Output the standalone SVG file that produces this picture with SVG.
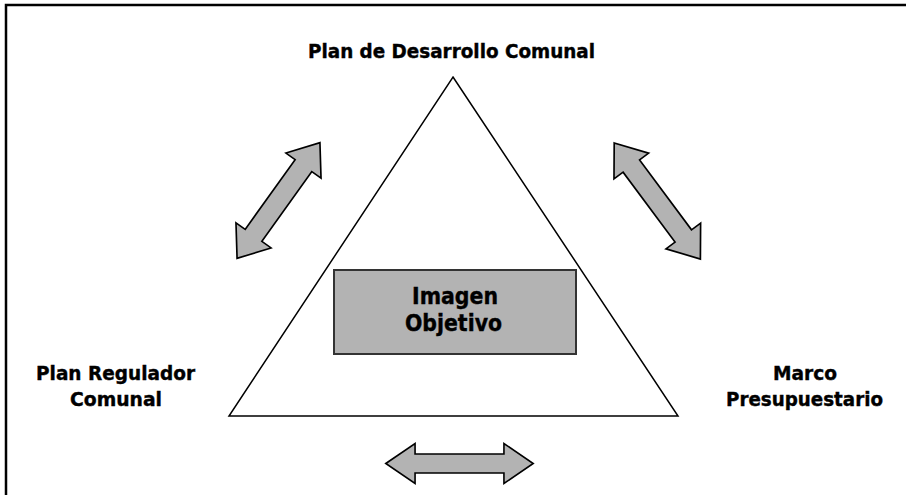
<svg xmlns="http://www.w3.org/2000/svg" xmlns:xlink="http://www.w3.org/1999/xlink" width="906" height="495" viewBox="0 0 906 495">
  <style>
    .lbl { font-family: "DejaVu Sans", Verdana, sans-serif; font-weight: bold; fill: #000; stroke: #000; stroke-width: 0.4; text-anchor: middle; }
    .arrow { fill: #b3b3b3; stroke: #000; stroke-width: 1.6; stroke-linejoin: miter; }
  </style>
  <defs>
    <path id="dblArrow" d="M -73,0 L -44,-20 L -44,-9.5 L 44,-9.5 L 44,-20 L 73,0 L 44,20 L 44,9.5 L -44,9.5 L -44,20 Z"/>
  </defs>
  <rect width="906" height="495" fill="#fff"/>
  <g id="frame">
    <path d="M 6,495 L 6,5 L 906,5" fill="none" stroke="#000" stroke-width="2.5"/>
  </g>
  <g id="triangle">
    <polygon points="453,77 678,416 229,416" fill="#fff" stroke="#000" stroke-width="1.5"/>
  </g>
  <g id="imagen-objetivo">
    <rect x="334" y="270" width="242" height="84" fill="#b3b3b3" stroke="#333" stroke-width="2"/>
    <text class="lbl" x="455" y="304" font-size="22.5" textLength="86" lengthAdjust="spacingAndGlyphs">Imagen</text>
    <text class="lbl" x="453.5" y="331" font-size="22.5" textLength="97" lengthAdjust="spacingAndGlyphs">Objetivo</text>
  </g>
  <g id="plan-desarrollo">
    <text class="lbl" x="451.5" y="57.5" font-size="19" textLength="287" lengthAdjust="spacingAndGlyphs">Plan de Desarrollo Comunal</text>
  </g>
  <g id="plan-regulador">
    <text class="lbl" x="115.5" y="380" font-size="19" textLength="159" lengthAdjust="spacingAndGlyphs">Plan Regulador</text>
    <text class="lbl" x="116" y="406" font-size="19" textLength="92" lengthAdjust="spacingAndGlyphs">Comunal</text>
  </g>
  <g id="marco-presupuestario">
    <text class="lbl" x="805" y="380" font-size="19" textLength="64" lengthAdjust="spacingAndGlyphs">Marco</text>
    <text class="lbl" x="804.5" y="406" font-size="19" textLength="157" lengthAdjust="spacingAndGlyphs">Presupuestario</text>
  </g>
  <g id="connectors">
    <use xlink:href="#dblArrow" class="arrow" transform="translate(278.5,200.5) rotate(-54.4) scale(0.975,1.08)"/>
    <use xlink:href="#dblArrow" class="arrow" transform="translate(657.3,201) rotate(53.4) scale(0.99,1.08)"/>
    <use xlink:href="#dblArrow" class="arrow" transform="translate(459.5,463.5) scale(1.01,1)"/>
  </g>
</svg>
